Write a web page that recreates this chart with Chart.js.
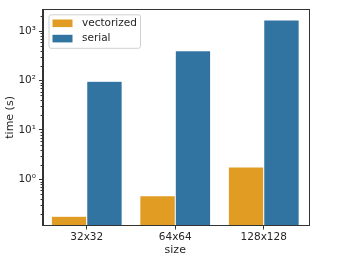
<!DOCTYPE html>
<html>
<head>
<meta charset="utf-8">
<script src="https://cdn.jsdelivr.net/npm/chart.js@4.4.0/dist/chart.umd.min.js"></script>
<style>
  html, body { margin: 0; padding: 0; background: #fff; }
  #wrap { width: 343px; height: 257px; }
</style>
</head>
<body>
<div id="wrap"><canvas id="timing"></canvas></div>
<script>
const sizes = ["32x32", "64x64", "128x128"]
const vectorized = [0.18, 0.47, 1.78]
const serial = [97, 400, 1670]
const majorTicks = [1, 10, 100, 1000]
const majorLabels = ["10⁰", "10¹", "10²", "10³"]
const minorTicks = [0.2, 0.3, 0.4, 0.5, 0.6, 0.7, 0.8, 0.9,
  2, 3, 4, 5, 6, 7, 8, 9,
  20, 30, 40, 50, 60, 70, 80, 90,
  200, 300, 400, 500, 600, 700, 800, 900, 2000]

Chart.defaults.font.family = "'DejaVu Sans', sans-serif"
Chart.defaults.color = '#262626'

// plot frame, minor ticks and the legend box inside the plot
const extras = {
  id: 'extras',
  afterDraw(chart) {
    const {ctx, chartArea: a, scales} = chart
    const y = scales.y
    ctx.save()
    ctx.strokeStyle = '#333'
    ctx.lineWidth = 1
    minorTicks.forEach(v => {
      const py = Math.round(y.getPixelForValue(v)) + 0.5
      if (py < a.top || py > a.bottom) return
      ctx.beginPath()
      ctx.moveTo(a.left - 2, py)
      ctx.lineTo(a.left, py)
      ctx.stroke()
    })
    ctx.strokeRect(Math.round(a.left) + 0.5, Math.round(a.top) + 0.5,
      Math.round(a.right - a.left), Math.round(a.bottom - a.top))

    // legend
    const lx = a.left + 6.5, ly = a.top + 5.5, lw = 91.5, lh = 33.5
    ctx.fillStyle = 'rgba(255,255,255,0.8)'
    ctx.strokeStyle = '#d0d0d0'
    ctx.beginPath()
    ctx.roundRect(lx, ly, lw, lh, 2)
    ctx.fill()
    ctx.stroke()
    ctx.font = "10.5px 'DejaVu Sans'"
    ctx.textBaseline = 'middle'
    chart.data.datasets.forEach((ds, i) => {
      const cy = ly + 8.5 + i * 15.3
      ctx.fillStyle = ds.backgroundColor
      ctx.fillRect(lx + 3.5, cy - 3.8, 20, 7.6)
      ctx.fillStyle = '#262626'
      ctx.fillText(ds.label, lx + 33, cy)
    })
    ctx.restore()
  }
}

const config = {
  type: 'bar',
  data: {
    labels: sizes,
    datasets: [{
      label: 'vectorized',
      data: vectorized,
      backgroundColor: '#e19c24',
      borderColor: 'rgba(255,255,255,0.85)',
      borderWidth: 0.5
    }, {
      label: 'serial',
      data: serial,
      backgroundColor: '#3274a1',
      borderColor: 'rgba(255,255,255,0.85)',
      borderWidth: 0.5
    }]
  },
  options: {
    responsive: true,
    maintainAspectRatio: false,
    animation: false,
    layout: {
      padding: { top: 5, right: 35, left: 0, bottom: 0 }
    },
    datasets: {
      bar: { categoryPercentage: 0.8, barPercentage: 1.0 }
    },
    scales: {
      x: {
        grid: { drawOnChartArea: false, offset: false, tickLength: 4, color: '#333' },
        border: { color: '#333' },
        ticks: { font: { size: 10.5 }, padding: 1, maxRotation: 0 },
        title: {
          display: true,
          text: 'size',
          font: { size: 11 },
          padding: { top: 0, bottom: 0 }
        },
        afterFit(scale) { scale.height = 31.5 }
      },
      y: {
        type: 'logarithmic',
        min: 0.117,
        max: 2760,
        grid: { drawOnChartArea: false, tickLength: 3.5, color: '#333' },
        border: { color: '#333' },
        afterBuildTicks(scale) {
          scale.ticks = majorTicks.map(v => ({ value: v }))
        },
        ticks: {
          autoSkip: false,
          font: { size: 10.5 },
          padding: 3,
          callback: (v) => majorLabels[majorTicks.indexOf(v)]
        },
        title: {
          display: true,
          text: 'time (s)',
          font: { size: 11 },
          padding: { top: 4, bottom: 0 }
        },
        afterFit(scale) { scale.width = 42.5 }
      }
    },
    plugins: {
      legend: { display: false },
      tooltip: { enabled: false }
    }
  },
  plugins: [extras]
}

new Chart(document.getElementById('timing'), config)
</script>
</body>
</html>
